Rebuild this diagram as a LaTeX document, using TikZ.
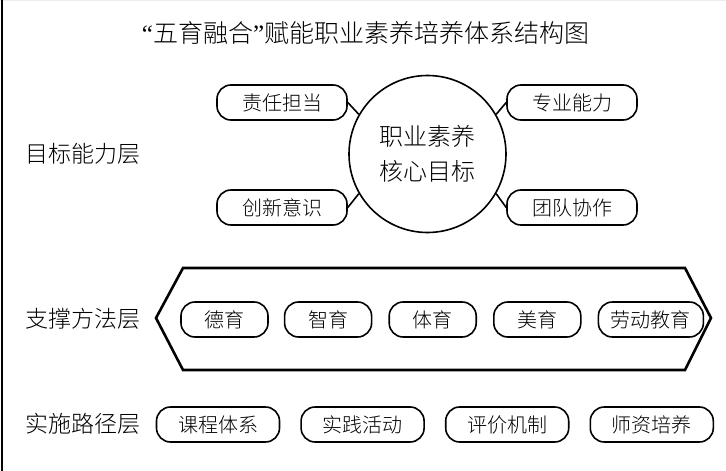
\documentclass[tikz,border=0pt]{standalone}
\usepackage{fontspec}
\setmainfont{Noto Sans CJK SC}[UprightFont={* Light}]
\newfontfamily\quotefont{Liberation Serif}
\usetikzlibrary{positioning}

\begin{document}
\begin{tikzpicture}[
    x=1pt, y=-1pt,
    pillnode/.style={shape=rectangle, rounded corners=14pt, draw=black, line width=1.6pt, minimum height=35pt, inner sep=0pt, font=\fontsize{20}{24}\selectfont},
    goalnode/.style={pillnode, minimum width=130pt},
    methodnode/.style={pillnode, minimum width=87pt},
    pathnode/.style={pillnode, minimum width=123pt},
    layernode/.style={anchor=west, inner sep=0pt, font=\fontsize{23}{28}\selectfont},
    corenode/.style={shape=circle, draw=black, line width=1.6pt, minimum size=157pt, inner sep=0pt, align=center, font=\fontsize{24}{35}\selectfont}
]
% Frame
\useasboundingbox (0,0) rectangle (726,471);
\draw[gray!15, line width=0.8pt] (0,0.5) -- (726,0.5);
\draw[line width=2.4pt] (2,0) -- (2,471);

% Title
\node[font=\fontsize{25}{30}\selectfont] (title) at (365.5,33) {{\quotefont “}五育融合{\quotefont ”}赋能职业素养培养体系结构图};

% Layers
\node[layernode] (layer_goal) at (25,154) {目标能力层};
\node[layernode] (layer_method) at (25,319) {支撑方法层};
\node[layernode] (layer_path) at (25,424) {实施路径层};

% Goal layer
\node[corenode] (core) at (427.5,154) {职业素养\\核心目标};
\node[goalnode] (zrdd) at (282,102.5) {责任担当};
\node[goalnode] (zynl) at (572,102.5) {专业能力};
\node[goalnode] (cxys) at (282,207.5) {创新意识};
\node[goalnode] (tdxz) at (572,207.5) {团队协作};

\draw[line width=1.6pt] (zrdd.east) -- (core.150);
\draw[line width=1.6pt] (cxys.east) -- (core.210);
\draw[line width=1.6pt] (zynl.west) -- (core.30);
\draw[line width=1.6pt] (tdxz.west) -- (core.330);

% Method layer
\draw[line width=2.6pt, line join=miter] (156,318) -- (183,268) -- (685,268) -- (711,318) -- (685,370) -- (183,370) -- cycle;
\node[methodnode] (deyu) at (224.5,319.5) {德育};
\node[methodnode, right=15pt of deyu] (zhiyu) {智育};
\node[methodnode, right=16pt of zhiyu] (tiyu) {体育};
\node[methodnode, right=16pt of tiyu] (meiyu) {美育};
\node[methodnode, minimum width=105pt, right=16pt of meiyu] (laodong) {劳动教育};

% Path layer
\node[pathnode] (kctx) at (218,424.5) {课程体系};
\node[pathnode, right=20pt of kctx] (sjhd) {实践活动};
\node[pathnode, right=20pt of sjhd] (pjjz) {评价机制};
\node[pathnode, right=20pt of pjjz] (szpy) {师资培养};

\end{tikzpicture}
\end{document}
